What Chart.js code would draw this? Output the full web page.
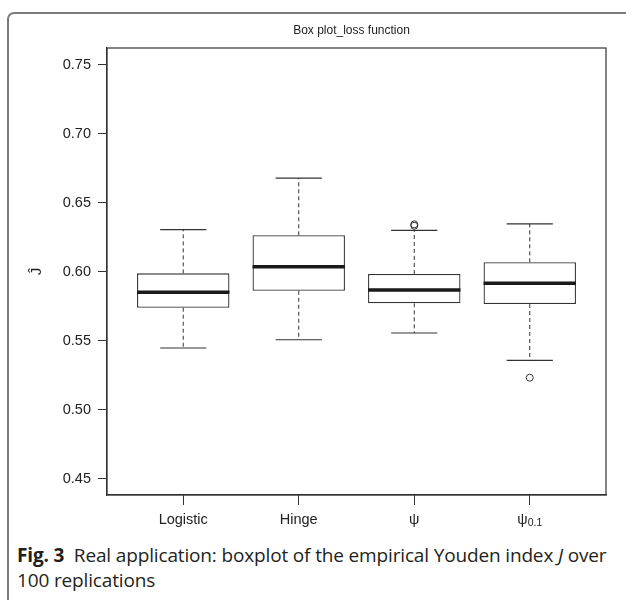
<!DOCTYPE html>
<html>
<head>
<meta charset="utf-8">
<script src="https://cdn.jsdelivr.net/npm/chart.js@4.4.1/dist/chart.umd.min.js"></script>
<style>
  body { margin: 0; background: #fff; overflow: hidden; }
  #frame {
    position: absolute; left: 7px; top: 12px; width: 700px; height: 700px;
    border: 2px solid #7a7a7a; border-radius: 7px;
  }
  #chart { position: absolute; left: 0; top: 0; }
  #caption {
    position: absolute; left: 17px; top: 543px; width: 605px;
    font-family: "Open Sans", sans-serif; font-size: 19px; line-height: 25px;
    letter-spacing: -0.15px; color: #231f20;
  }
</style>
</head>
<body>
<div id="frame"></div>
<canvas id="chart" width="626" height="530"></canvas>
<div id="caption"><b>Fig. 3</b>&nbsp; Real application: boxplot of the empirical Youden index <i>J</i> over 100 replications</div>
<script>
// values
const categories = ["Logistic", "Hinge", "ψ", "ψ0.1"];
const lowWhisker = [0.5449, 0.5509, 0.5558, 0.536];
const q1 = [0.5741, 0.5864, 0.5773, 0.5768];
const median = [0.5853, 0.6038, 0.587, 0.5918];
const q3 = [0.599, 0.6266, 0.5986, 0.607];
const highWhisker = [0.6307, 0.668, 0.6302, 0.6348];
const outlierCat = [3, 3, 4];
const outlierVal = [0.6335, 0.6345, 0.5234];
const yTicks = [0.45, 0.5, 0.55, 0.6, 0.65, 0.7, 0.75];

const font = "Liberation Sans, Arial, sans-serif";

// build library data from the arrays
const boxData = categories.map((c, i) => ({ x: i + 1, y: [q1[i], q3[i]] }));
const whiskerData = [];
const capData = [];
const medianData = [];
categories.forEach((c, i) => {
  const x = i + 1;
  whiskerData.push({ x: x, y: q3[i] }, { x: x, y: highWhisker[i] }, { x: x, y: null });
  whiskerData.push({ x: x, y: q1[i] }, { x: x, y: lowWhisker[i] }, { x: x, y: null });
  capData.push({ x: x - 0.2, y: highWhisker[i] }, { x: x + 0.2, y: highWhisker[i] }, { x: x + 0.2, y: null });
  capData.push({ x: x - 0.2, y: lowWhisker[i] }, { x: x + 0.2, y: lowWhisker[i] }, { x: x + 0.2, y: null });
  medianData.push({ x: x - 0.4, y: median[i] }, { x: x + 0.4, y: median[i] }, { x: x + 0.4, y: null });
});
const outlierData = outlierCat.map((c, i) => ({ x: c, y: outlierVal[i] }));

// box frame, title, axis texts
const decorations = {
  id: "decorations",
  afterDraw(chart) {
    const ctx = chart.ctx;
    const a = chart.chartArea;
    const xs = chart.scales.x;
    ctx.save();
    ctx.strokeStyle = "#333";
    ctx.lineWidth = 1.2;
    ctx.strokeRect(a.left, a.top, a.right - a.left, a.bottom - a.top);

    ctx.fillStyle = "#222";
    ctx.textAlign = "center";
    ctx.textBaseline = "middle";
    ctx.font = "12px " + font;
    ctx.fillText("Box plot_loss function", (a.left + a.right) / 2 - 5, 31);

    categories.forEach((c, i) => {
      const px = xs.getPixelForValue(i + 1);
      const m = c.match(/^(ψ)(.+)$/);
      if (m) {
        ctx.font = "14.5px " + font;
        const w1 = ctx.measureText(m[1]).width;
        ctx.font = "10.5px " + font;
        const w2 = ctx.measureText(m[2]).width;
        const left = px - (w1 + w2) / 2;
        ctx.textAlign = "left";
        ctx.font = "14.5px " + font;
        ctx.fillText(m[1], left, a.bottom + 25);
        ctx.font = "10.5px " + font;
        ctx.fillText(m[2], left + w1, a.bottom + 28);
        ctx.textAlign = "center";
      } else {
        ctx.font = "14.5px " + font;
        ctx.fillText(c, px, a.bottom + 25);
      }
    });

    ctx.translate(37, (a.top + a.bottom) / 2);
    ctx.rotate(-Math.PI / 2);
    ctx.font = "15px " + font;
    ctx.fillText("Ĵ", 0, 0);
    ctx.restore();
  },
};

new Chart(document.getElementById("chart"), {
  type: "bar",
  data: {
    datasets: [
      {
        type: "bar",
        data: boxData,
        backgroundColor: "#ffffff",
        borderColor: "#333333",
        borderWidth: 1.3,
        borderSkipped: false,
        barPercentage: 1,
        categoryPercentage: 0.8,
        order: 3,
      },
      {
        type: "line",
        data: whiskerData,
        borderColor: "#333333",
        borderWidth: 1,
        borderDash: [4, 3],
        pointRadius: 0,
        spanGaps: false,
        order: 4,
      },
      {
        type: "line",
        data: capData,
        borderColor: "#333333",
        borderWidth: 1.2,
        pointRadius: 0,
        spanGaps: false,
        order: 4,
      },
      {
        type: "line",
        data: medianData,
        borderColor: "#1a1a1a",
        borderWidth: 3.5,
        borderCapStyle: "butt",
        pointRadius: 0,
        spanGaps: false,
        order: 1,
      },
      {
        type: "scatter",
        data: outlierData,
        pointStyle: "circle",
        pointRadius: 3.5,
        pointBackgroundColor: "rgba(255,255,255,0)",
        pointBorderColor: "#333333",
        pointBorderWidth: 1,
        order: 0,
      },
    ],
  },
  options: {
    responsive: false,
    animation: false,
    layout: { padding: { left: 0, top: 48, right: 20, bottom: 0 } },
    plugins: {
      legend: { display: false },
      tooltip: { enabled: false },
    },
    scales: {
      x: {
        type: "linear",
        min: 0.34,
        max: 4.66,
        offset: false,
        grid: { display: true, offset: false, drawOnChartArea: false, tickLength: 10, color: "#333", lineWidth: 1 },
        border: { display: true, color: "#333", width: 1.2 },
        ticks: {
          stepSize: 1,
          includeBounds: false,
          callback: () => "",
        },
        afterFit(scale) { scale.height = 35; },
      },
      y: {
        type: "linear",
        min: 0.4384,
        max: 0.7623,
        beginAtZero: false,
        grid: { display: true, drawOnChartArea: false, tickLength: 9, color: "#333", lineWidth: 1 },
        border: { display: true, color: "#333", width: 1.2 },
        ticks: {
          stepSize: 0.05,
          includeBounds: false,
          padding: 7,
          color: "#222",
          font: { family: font, size: 14.5 },
          callback: (v) => (yTicks.some((t) => Math.abs(t - v) < 1e-6) ? v.toFixed(2) : null),
        },
        afterFit(scale) { scale.width = 107; },
      },
    },
  },
  plugins: [decorations],
});
</script>
</body>
</html>
